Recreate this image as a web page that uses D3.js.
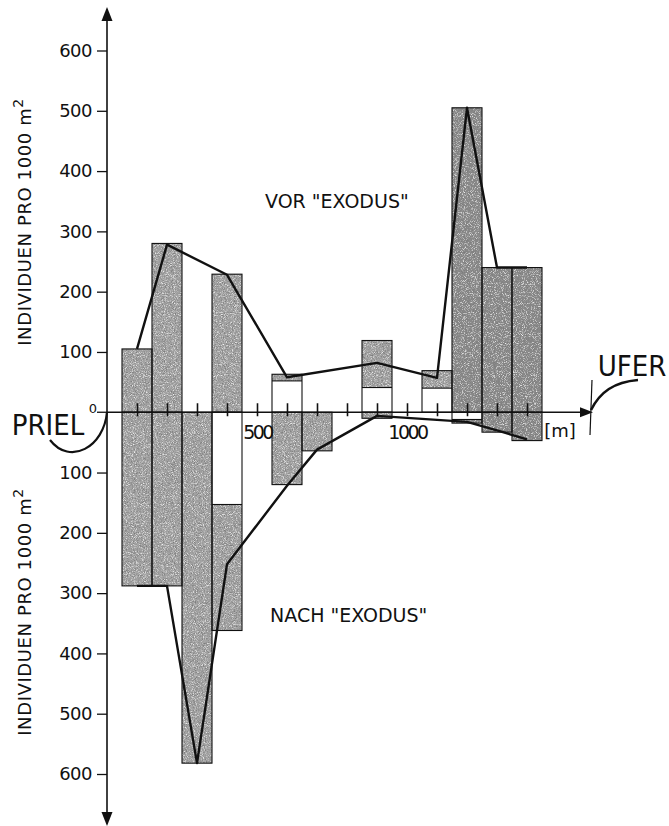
<!DOCTYPE html>
<meta charset="utf-8" />
<style>
  body { margin: 0; background: #fff; }
  svg text { font-family: "DejaVu Sans", sans-serif; fill: #111; }
  svg text.big { font-family: "DejaVu Sans Condensed", "DejaVu Sans", sans-serif; font-stretch: condensed; }
</style>
<body>
  <script src="https://d3js.org/d3.v7.min.js"></script>
  <script>
    // stations along the transect [m]
    const stations = [100, 200, 300, 400, 500, 600, 700, 800, 900, 1000, 1100, 1200, 1300, 1400];
    // individuals per 1000 m2, before "exodus" (white part + shaded part)
    const vorWhite = [0, 0, 0, 0, 0, 52, 0, 0, 41, 0, 40, 0, 0, 0];
    const vorGray = [105, 280, 0, 229, 0, 11, 0, 0, 78, 0, 29, 505, 240, 240];
    // after "exodus"
    const nachWhite = [0, 0, 0, 153, 0, 0, 0, 0, 0, 0, 0, 12, 0, 0];
    const nachGray = [288, 288, 582, 209, 0, 120, 64, 0, 10, 0, 0, 6, 33, 47];

    // connecting lines
    const vorLineX = [100, 200, 400, 600, 900, 1100, 1200, 1300, 1400];
    const vorLineY = [105, 278, 228, 58, 82, 57, 505, 240, 240];
    const nachLineX = [100, 200, 300, 400, 600, 700, 900, 1200, 1300, 1400];
    const nachLineY = [288, 288, 582, 252, 122, 62, 6, 16, 30, 45];

    const yTicks = [100, 200, 300, 400, 500, 600];
    const xTicks = [100, 200, 300, 400, 500, 600, 700, 800, 900, 1000, 1100, 1200, 1300, 1400];
    const xLabels = [500, 1000];

    const W = 669, H = 826;
    const svg = d3.select("body").append("svg")
      .attr("width", W).attr("height", H);

    // grainy shading like the printed stipple
    const defs = svg.append("defs");
    const f = defs.append("filter").attr("id", "grain")
      .attr("x", 0).attr("y", 0).attr("width", "100%").attr("height", "100%");
    f.append("feTurbulence").attr("type", "fractalNoise").attr("baseFrequency", 1.1)
      .attr("numOctaves", 2).attr("seed", 4).attr("result", "noise");
    f.append("feColorMatrix").attr("in", "noise").attr("type", "matrix")
      .attr("values", "0 0 0 0 0.2  0 0 0 0 0.2  0 0 0 0 0.2  2.8 0 0 0 -1.2").attr("result", "dark");
    f.append("feColorMatrix").attr("in", "noise").attr("type", "matrix")
      .attr("values", "0 0 0 0 0.92  0 0 0 0 0.92  0 0 0 0 0.92  0 2.6 0 0 -1.35").attr("result", "light");
    f.append("feComposite").attr("in", "dark").attr("in2", "SourceGraphic").attr("operator", "in").attr("result", "darkIn");
    f.append("feComposite").attr("in", "light").attr("in2", "SourceGraphic").attr("operator", "in").attr("result", "lightIn");
    const fm = f.append("feMerge");
    fm.append("feMergeNode").attr("in", "SourceGraphic");
    fm.append("feMergeNode").attr("in", "darkIn");
    fm.append("feMergeNode").attr("in", "lightIn");

    const x = d3.scaleLinear().domain([0, 1400]).range([107, 527]);
    const y = d3.scaleLinear().domain([-600, 600]).range([774, 50.5]);

    const bw = x(100) - x(0);

    const rows = stations.map((s, i) => ({
      s, vw: vorWhite[i], vg: vorGray[i], nw: nachWhite[i], ng: nachGray[i]
    }));

    const shade = d => d.s >= 1200 ? "#8a8a8a" : "#a4a4a4";

    // shaded parts
    const gGray = svg.append("g");
    gGray.selectAll("rect.up").data(rows.filter(d => d.vg > 0)).join("rect")
      .attr("x", d => x(d.s) - bw / 2).attr("width", bw)
      .attr("y", d => y(d.vw + d.vg)).attr("height", d => y(d.vw) - y(d.vw + d.vg))
      .attr("fill", shade).attr("filter", "url(#grain)");
    gGray.selectAll("rect.dn").data(rows.filter(d => d.ng > 0)).join("rect")
      .attr("x", d => x(d.s) - bw / 2).attr("width", bw)
      .attr("y", d => y(-d.nw)).attr("height", d => y(-(d.nw + d.ng)) - y(-d.nw))
      .attr("fill", shade).attr("filter", "url(#grain)");

    // outlines + white parts
    const gOut = svg.append("g").attr("fill", "none").attr("stroke", "#111").attr("stroke-width", 1.1);
    gOut.selectAll("rect.ou").data(rows.filter(d => d.vw + d.vg > 0)).join("rect")
      .attr("x", d => x(d.s) - bw / 2).attr("width", bw)
      .attr("y", d => y(d.vw + d.vg)).attr("height", d => y(0) - y(d.vw + d.vg));
    gOut.selectAll("rect.od").data(rows.filter(d => d.nw + d.ng > 0)).join("rect")
      .attr("x", d => x(d.s) - bw / 2).attr("width", bw)
      .attr("y", y(0)).attr("height", d => y(-(d.nw + d.ng)) - y(0));
    gOut.selectAll("line.su").data(rows.filter(d => d.vw > 0 && d.vg > 0)).join("line")
      .attr("x1", d => x(d.s) - bw / 2).attr("x2", d => x(d.s) + bw / 2)
      .attr("y1", d => y(d.vw)).attr("y2", d => y(d.vw));
    gOut.selectAll("line.sd").data(rows.filter(d => d.nw > 0 && d.ng > 0)).join("line")
      .attr("x1", d => x(d.s) - bw / 2).attr("x2", d => x(d.s) + bw / 2)
      .attr("y1", d => y(-d.nw)).attr("y2", d => y(-d.nw));

    // lines
    const line = d3.line().x(d => x(d[0])).y(d => y(d[1]));
    svg.append("path")
      .attr("d", line(vorLineX.map((v, i) => [v, vorLineY[i]])))
      .attr("fill", "none").attr("stroke", "#111").attr("stroke-width", 2.4).attr("stroke-linejoin", "round");
    svg.append("path")
      .attr("d", line(nachLineX.map((v, i) => [v, -nachLineY[i]])))
      .attr("fill", "none").attr("stroke", "#111").attr("stroke-width", 2.4).attr("stroke-linejoin", "round");

    // y axis (upper and lower, absolute labels)
    const yAxis = d3.axisLeft(y)
      .tickValues(yTicks.concat(yTicks.map(v => -v)))
      .tickFormat(d => Math.abs(d))
      .tickSize(10).tickSizeOuter(0).tickPadding(5);
    const ga = svg.append("g").attr("transform", `translate(${x(0)},0)`).call(yAxis);
    ga.select(".domain").remove();
    ga.selectAll(".tick line").attr("stroke", "#111").attr("stroke-width", 1.3);
    ga.selectAll(".tick text").attr("font-size", 18).attr("letter-spacing", -0.5).attr("fill", "#111");

    const axisG = svg.append("g").attr("stroke", "#111").attr("stroke-width", 1.6);
    axisG.append("line").attr("x1", x(0)).attr("x2", x(0)).attr("y1", 18).attr("y2", 815);
    svg.append("path").attr("d", `M${x(0)},7 L${x(0) - 5.5},21 L${x(0) + 5.5},21 Z`).attr("fill", "#111");
    svg.append("path").attr("d", `M${x(0)},826 L${x(0) - 5.5},812 L${x(0) + 5.5},812 Z`).attr("fill", "#111");

    // "0" label and tick at zero
    svg.append("line").attr("x1", x(0) - 10).attr("x2", x(0)).attr("y1", y(0)).attr("y2", y(0))
      .attr("stroke", "#111").attr("stroke-width", 1.3);
    svg.append("text").attr("x", 93).attr("y", 413).attr("font-size", 13).attr("text-anchor", "middle").text("0");

    // x axis
    axisG.append("line").attr("x1", x(0)).attr("x2", 584).attr("y1", y(0)).attr("y2", y(0));
    svg.append("path").attr("d", `M593,${y(0)} L580,${y(0) - 5} L580,${y(0) + 5} Z`).attr("fill", "#111");
    const xAxis = d3.axisBottom(x).tickValues(xTicks)
      .tickFormat(d => xLabels.includes(d) ? d : "")
      .tickSize(4).tickSizeOuter(0).tickPadding(9);
    const gx = svg.append("g").attr("transform", `translate(0,${y(0)})`).call(xAxis);
    gx.select(".domain").remove();
    gx.selectAll(".tick line").attr("y1", -9).attr("stroke", "#111").attr("stroke-width", 1.6);
    gx.selectAll(".tick text").attr("font-size", 19).attr("letter-spacing", -2.5).attr("fill", "#111");
    svg.append("text").attr("x", 560).attr("y", 437).attr("font-size", 18).attr("text-anchor", "middle").text("[m]");

    // shore mark
    svg.append("line").attr("x1", 592).attr("x2", 590).attr("y1", 380).attr("y2", 435)
      .attr("stroke", "#111").attr("stroke-width", 1.2);
    svg.append("path").attr("d", "M591,410 C600,392 614,382 638,380")
      .attr("fill", "none").attr("stroke", "#111").attr("stroke-width", 2.6);
    svg.append("text").attr("class", "big").attr("x", 632).attr("y", 376).attr("font-size", 29)
      .attr("text-anchor", "middle").text("UFER");

    // channel mark
    svg.append("path").attr("d", "M107,412 C104,447 70,466 50,440")
      .attr("fill", "none").attr("stroke", "#111").attr("stroke-width", 2.2);
    svg.append("text").attr("class", "big").attr("x", 48).attr("y", 435).attr("font-size", 29)
      .attr("text-anchor", "middle").text("PRIEL");

    // axis titles
    function yTitle(cy) {
      const t = svg.append("text")
        .attr("transform", `translate(31,${cy}) rotate(-90)`)
        .attr("text-anchor", "middle").attr("font-size", 18).attr("letter-spacing", 0.6);
      t.append("tspan").text("INDIVIDUEN  PRO  1000 m");
      t.append("tspan").attr("dy", -8).attr("font-size", 14).text("2");
    }
    yTitle(222);
    yTitle(612);

    svg.append("text").attr("x", 265).attr("y", 208).attr("font-size", 19).text('VOR "EXODUS"');
    svg.append("text").attr("x", 270).attr("y", 622).attr("font-size", 19).text('NACH "EXODUS"');
  </script>
</body>
